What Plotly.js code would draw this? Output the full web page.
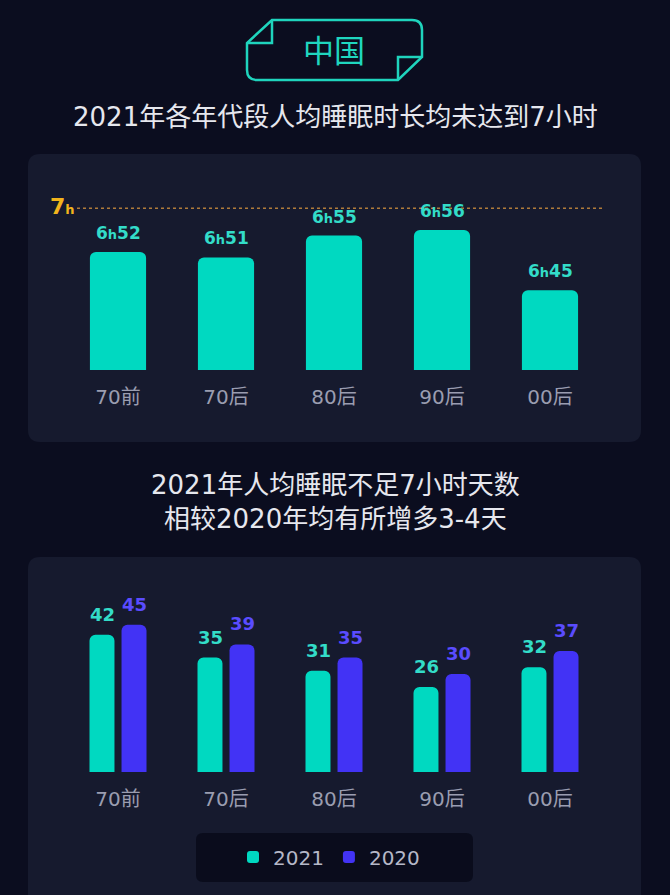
<!DOCTYPE html>
<html>
<head>
<meta charset="utf-8">
<script src="https://cdn.plot.ly/plotly-3.0.1.min.js"></script>
<style>html,body{margin:0;padding:0;background:#0b0d1f;}#chart{width:670px;height:895px;}</style>
</head>
<body>
<div id="chart"></div>
<script>
// ---- data ----
const ageGroups = ['70前', '70后', '80后', '90后', '00后'];
const sleepHours = [6, 6, 6, 6, 6];
const sleepMinutes = [52, 51, 55, 56, 45];
const targetHours = 7;
const seriesNames = ['2021', '2020'];
const shortDays2021 = [42, 35, 31, 26, 32];
const shortDays2020 = [45, 39, 35, 30, 37];
const badgeText = '中国';
const title1 = '2021年各年代段人均睡眠时长均未达到7小时';
const title2 = '2021年人均睡眠不足7小时天数<br>相较2020年均有所增多3-4天';

// ---- helpers ----
const W = 670, H = 895;
const X = p => p / W;
const Y = p => 1 - p / H;
const F = '"DejaVu Sans", "Noto Sans CJK SC", sans-serif';
const TEAL = '#00d9c1', TEAL_TXT = '#33dcc8';
const BLUE = '#4233f5', BLUE_TXT = '#5a4cff';

function roundRect(x0, y0, x1, y1, r) {
  return `M${X(x0 + r)},${Y(y0)} L${X(x1 - r)},${Y(y0)} Q${X(x1)},${Y(y0)} ${X(x1)},${Y(y0 + r)} ` +
    `L${X(x1)},${Y(y1 - r)} Q${X(x1)},${Y(y1)} ${X(x1 - r)},${Y(y1)} L${X(x0 + r)},${Y(y1)} ` +
    `Q${X(x0)},${Y(y1)} ${X(x0)},${Y(y1 - r)} L${X(x0)},${Y(y0 + r)} Q${X(x0)},${Y(y0)} ${X(x0 + r)},${Y(y0)} Z`;
}
function pathPx(cmds) {
  return cmds.map(c => typeof c === 'string' ? c : `${X(c[0])},${Y(c[1])}`).join(' ');
}

const totalMinutes = sleepHours.map((h, i) => h * 60 + sleepMinutes[i]);
const targetMinutes = targetHours * 60;

const traces = [
  {
    type: 'bar', x: ageGroups, y: totalMinutes, xaxis: 'x', yaxis: 'y',
    width: 0.52, marker: { color: TEAL, cornerradius: 6 },
    showlegend: false, hoverinfo: 'skip'
  },
  {
    type: 'bar', name: seriesNames[0], x: ageGroups, y: shortDays2021, xaxis: 'x2', yaxis: 'y2',
    marker: { color: TEAL, cornerradius: 6 }, hoverinfo: 'skip'
  },
  {
    type: 'bar', name: seriesNames[1], x: ageGroups, y: shortDays2020, xaxis: 'x2', yaxis: 'y2',
    marker: { color: BLUE, cornerradius: 6 }, hoverinfo: 'skip'
  }
];

const annotations = [];
annotations.push({
  xref: 'paper', yref: 'paper', x: X(334), y: Y(51), text: badgeText, showarrow: false,
  font: { family: F, size: 31, color: '#1fd6bf' }, xanchor: 'center', yanchor: 'middle'
});
annotations.push({
  xref: 'paper', yref: 'paper', x: X(335), y: Y(117), text: title1, showarrow: false,
  font: { family: F, size: 26, color: '#e6e7ee' }, xanchor: 'center', yanchor: 'middle'
});
annotations.push({
  xref: 'paper', yref: 'paper', x: X(335), y: Y(502), text: title2, showarrow: false,
  font: { family: F, size: 26, color: '#e6e7ee' }, xanchor: 'center', yanchor: 'middle'
});
annotations.push({
  xref: 'paper', yref: 'y', x: X(77), y: targetMinutes, xanchor: 'right', yanchor: 'middle',
  text: `${targetHours}<span style="font-size:13px">h</span>`, showarrow: false, yshift: 2,
  font: { family: F, size: 22, color: '#f2b41c', weight: 'bold' }
});
ageGroups.forEach((g, i) => {
  annotations.push({
    xref: 'x', yref: 'y', x: g, y: totalMinutes[i], yanchor: 'bottom', yshift: 7, showarrow: false,
    text: `${sleepHours[i]}<span style="font-size:13px">h</span>${sleepMinutes[i]}`,
    font: { family: F, size: 17, color: TEAL_TXT, weight: 'bold' }
  });
  annotations.push({
    xref: 'x2', yref: 'y2', x: g, y: shortDays2021[i], yanchor: 'bottom', yshift: 8, xshift: -16,
    showarrow: false, text: String(shortDays2021[i]),
    font: { family: F, size: 18, color: TEAL_TXT, weight: 'bold' }
  });
  annotations.push({
    xref: 'x2', yref: 'y2', x: g, y: shortDays2020[i], yanchor: 'bottom', yshift: 8, xshift: 16,
    showarrow: false, text: String(shortDays2020[i]),
    font: { family: F, size: 18, color: BLUE_TXT, weight: 'bold' }
  });
});

const shapes = [
  // panels
  { type: 'path', xref: 'paper', yref: 'paper', layer: 'below', path: roundRect(28, 154, 641, 442, 12),
    fillcolor: '#161a2e', line: { width: 0 } },
  { type: 'path', xref: 'paper', yref: 'paper', layer: 'below', path: roundRect(28, 557, 641, 920, 12),
    fillcolor: '#161a2e', line: { width: 0 } },
  // legend box
  { type: 'path', xref: 'paper', yref: 'paper', layer: 'below', path: roundRect(196, 833, 473, 882, 7),
    fillcolor: '#0a0c1c', line: { width: 0 } },
  // badge
  { type: 'path', xref: 'paper', yref: 'paper', layer: 'below',
    path: pathPx(['M', [272, 20], 'L', [412, 20], 'Q', [422, 20], [422, 30], 'L', [422, 57], 'L', [398, 80],
      'L', [257, 80], 'Q', [247, 80], [247, 70], 'L', [247, 43], 'Z']),
    fillcolor: '#0b0d1f', line: { color: '#1fd4bd', width: 2.5 } },
  { type: 'path', xref: 'paper', yref: 'paper', layer: 'below',
    path: pathPx(['M', [272, 20], 'L', [272, 43], 'L', [247, 43]]),
    line: { color: '#1fd4bd', width: 2.5 } },
  { type: 'path', xref: 'paper', yref: 'paper', layer: 'below',
    path: pathPx(['M', [422, 57], 'L', [398, 57], 'L', [398, 80]]),
    line: { color: '#1fd4bd', width: 2.5 } },
  // 7h target line
  { type: 'line', xref: 'paper', yref: 'y', x0: X(77), x1: X(603), y0: targetMinutes, y1: targetMinutes,
    layer: 'below', line: { color: '#b07b3a', width: 1.5, dash: 'dot' } }
];

const xCommon = {
  type: 'category', domain: [X(64), X(604)], range: [-0.5, 4.5],
  showgrid: false, zeroline: false, showline: false, ticks: '',
  tickfont: { family: F, size: 20, color: '#9a9db0' }, ticklabelstandoff: 13, fixedrange: true
};

const layout = {
  width: W, height: H,
  margin: { l: 0, r: 0, t: 0, b: 0 },
  paper_bgcolor: '#0b0d1f', plot_bgcolor: 'rgba(0,0,0,0)',
  barmode: 'group', bargap: 0.407, bargroupgap: 0.22,
  xaxis: Object.assign({}, xCommon, { anchor: 'y' }),
  yaxis: { domain: [Y(370), Y(206)], range: [390.4, 420.4], visible: false, fixedrange: true },
  xaxis2: Object.assign({}, xCommon, { anchor: 'y2' }),
  yaxis2: { domain: [Y(772), Y(608.5)], range: [0, 50], visible: false, fixedrange: true },
  showlegend: true,
  legend: {
    orientation: 'h', x: X(329), xanchor: 'center', y: Y(857), yanchor: 'middle',
    bgcolor: 'rgba(0,0,0,0)', font: { family: F, size: 20, color: '#b5b8c8' },
    itemclick: false, itemdoubleclick: false
  },
  annotations: annotations,
  shapes: shapes
};

Plotly.newPlot('chart', traces, layout, { displayModeBar: false, staticPlot: true });
</script>
</body>
</html>
